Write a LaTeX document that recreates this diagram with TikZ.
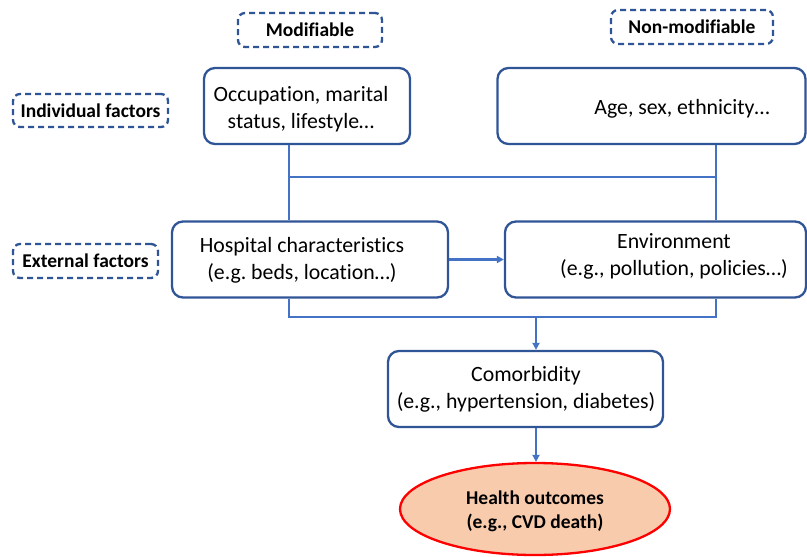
\documentclass[tikz,border=0pt]{standalone}
\usepackage{fontspec}
\setmainfont[Ligatures=NoCommon]{Carlito}
\frenchspacing
\usetikzlibrary{arrows.meta,shapes.geometric}
\definecolor{boxblue}{HTML}{2F5597}
\definecolor{lineblue}{HTML}{4472C4}
\definecolor{peach}{HTML}{F8CBAD}
\tikzset{
  box/.style={draw=boxblue, line width=2.3pt, rounded corners=11pt, inner sep=0pt},
  tag/.style={draw=boxblue, line width=2.3pt, dash pattern=on 6pt off 4pt, rounded corners=7pt, inner sep=0pt, font=\fontsize{19.5}{22}\selectfont\bfseries},
  txt/.style={align=center, inner sep=0pt, font=\fontsize{21.8}{27}\selectfont},
  conn/.style={draw=lineblue, line width=2.3pt},
  arr/.style={conn, -{Triangle[length=7pt,width=7pt]}},
}
\begin{document}
\begin{tikzpicture}[x=1pt,y=-1pt]
\useasboundingbox (0,0) rectangle (807,557);
% tags
\node[tag, minimum width=144pt, minimum height=34pt] (mod) at (310,30) {Modifiable};
\node[tag, minimum width=162pt, minimum height=34pt] (nonmod) at (692,27) {Non-modifiable};
\node[tag, minimum width=155pt, minimum height=33pt] (indiv) at (90.5,110.5) {Individual factors};
\node[tag, minimum width=145pt, minimum height=34pt] (ext) at (85.5,261) {External factors};
% boxes
\node[box, minimum width=206pt, minimum height=76pt] (occ) at (307,106) {};
\node[txt] (occtxt) at (301,109) {Occupation, marital\\status, lifestyle\dots};
\node[box, minimum width=308pt, minimum height=76pt] (age) at (651.5,106) {};
\node[txt] (agetxt) at (682,109) {Age, sex, ethnicity\dots};
\node[box, minimum width=276pt, minimum height=76pt] (hosp) at (310,259.5) {};
\node[txt] (hosptxt) at (302,260) {Hospital characteristics\\(e.g. beds, location\dots)};
\node[box, minimum width=301pt, minimum height=76pt] (env) at (655.5,259.5) {};
\node[txt] (envtxt) at (674,256) {Environment\\(e.g., pollution, policies\dots)};
\node[box, minimum width=275pt, minimum height=76pt] (com) at (525.5,389) {};
\node[txt] (comtxt) at (526,389) {Comorbidity\\(e.g., hypertension, diabetes)};
\node[ellipse, draw=red, line width=2.3pt, fill=peach, minimum width=270pt, minimum height=92pt, inner sep=0pt] (out) at (535,509) {};
\node[txt, font=\fontsize{19.5}{24}\selectfont\bfseries] (outtxt) at (535,511) {Health outcomes\\(e.g., CVD death)};
% connectors
\coordinate (j1) at (289,177);
\coordinate (j2) at (716,177);
\coordinate (j3) at (289,317);
\coordinate (j4) at (716,317);
\coordinate (j5) at (536,317);
\draw[conn] (occ.south -| j1) -- (hosp.north -| j1);
\draw[conn] (age.south -| j2) -- (env.north -| j2);
\draw[conn] (j1) -- (j2);
\draw[conn] (hosp.south -| j3) -- (j3) -- (j4) -- (env.south -| j4);
\draw[arr] (j5) -- (com.north -| j5);
\draw[arr] (com.south -| j5) -- (out.north -| j5);
\draw[arr] (hosp.east) -- (env.west);
\end{tikzpicture}
\end{document}
